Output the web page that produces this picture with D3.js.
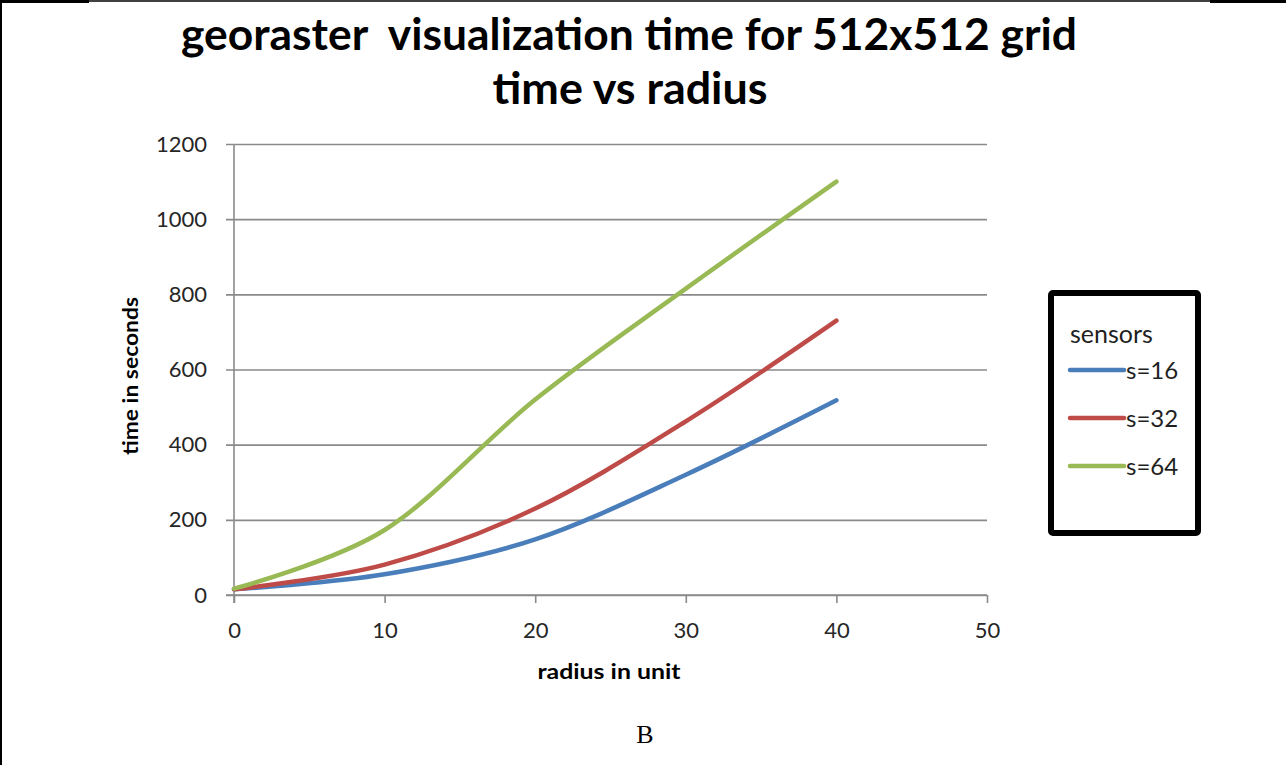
<!DOCTYPE html>
<html>
<head>
<meta charset="utf-8">
<script src="https://cdn.jsdelivr.net/npm/d3@7"></script>
<style>
    body { margin: 0; background: #ffffff; }
    svg { display: block; }
</style>
</head>
<body>
<div id="chart"></div>
<script>
// data
const radius = [0, 10, 20, 30, 40];
const seriesNames = ["s=16", "s=32", "s=64"];
const s16 = [15, 55, 148, 320, 518];
const s32 = [15, 81, 230, 462, 730];
const s64 = [17, 173, 520, 815, 1100];
const seriesColors = ["#4a7ebb", "#be4b48", "#98b954"];
const xTicks = [0, 10, 20, 30, 40, 50];
const yTicks = [0, 200, 400, 600, 800, 1000, 1200];

const width = 1286;
const height = 765;
const plot = {left: 234, right: 987, top: 144, bottom: 595};
const labelFont = "Lato, 'Open Sans', sans-serif";

let svg = d3.select("#chart")
    .append("svg")
    .attr("width", width)
    .attr("height", height);

// page frame (left edge and top rule)
svg.append("line")
    .attr("x1", 1).attr("y1", 0).attr("x2", 1).attr("y2", height)
    .attr("stroke", "#000").attr("stroke-width", 2);
svg.append("line")
    .attr("x1", 0).attr("y1", 1).attr("x2", width).attr("y2", 1)
    .attr("stroke", "#000").attr("stroke-width", 1.5);
svg.append("line")
    .attr("x1", 0).attr("y1", 1.5).attr("x2", 89).attr("y2", 1.5)
    .attr("stroke", "#000").attr("stroke-width", 3);
svg.append("line")
    .attr("x1", 1210).attr("y1", 1.5).attr("x2", width).attr("y2", 1.5)
    .attr("stroke", "#000").attr("stroke-width", 3);

let xScale = d3.scaleLinear()
    .domain([0, 50])
    .range([plot.left, plot.right]);

let yScale = d3.scaleLinear()
    .domain([0, 1200])
    .range([plot.bottom, plot.top]);

// horizontal grid, with the small outside tick on the left
svg.append("g")
    .attr("class", "grid")
    .attr("transform", "translate(" + plot.right + ", 0)")
    .call(d3.axisLeft(yScale)
        .tickValues(yTicks)
        .tickSize(plot.right - plot.left + 8)
        .tickFormat(""))
    .call(g => g.select(".domain").remove())
    .selectAll("line")
    .attr("stroke", "#8a8a8a")
    .attr("stroke-width", 1.6);

// y axis
let yAxis = svg.append("g")
    .attr("class", "yAxis")
    .attr("transform", "translate(" + plot.left + ", 0)")
    .call(d3.axisLeft(yScale)
        .tickValues(yTicks)
        .tickFormat(d3.format("d"))
        .tickSize(0)
        .tickPadding(27));
yAxis.select(".domain")
    .attr("stroke", "#8a8a8a")
    .attr("stroke-width", 1.6)
    .attr("d", "M0," + plot.top + "V" + (plot.bottom + 8));
yAxis.selectAll("text")
    .attr("fill", "#262626")
    .style("font-family", labelFont)
    .style("font-size", "22px");

// x axis
let xAxis = svg.append("g")
    .attr("class", "xAxis")
    .attr("transform", "translate(0, " + plot.bottom + ")")
    .call(d3.axisBottom(xScale)
        .tickValues(xTicks)
        .tickSize(8)
        .tickPadding(19));
xAxis.select(".domain")
    .attr("stroke", "#8a8a8a")
    .attr("stroke-width", 1.6)
    .attr("d", "M" + (plot.left - 8) + ",0H" + plot.right);
xAxis.selectAll("line")
    .attr("stroke", "#8a8a8a")
    .attr("stroke-width", 1.6);
xAxis.selectAll("text")
    .attr("fill", "#262626")
    .style("font-family", labelFont)
    .style("font-size", "22px");

// series lines (Excel style smoothing)
let line = d3.line()
    .x(function (d, i) { return xScale(radius[i]); })
    .y(function (d) { return yScale(d); })
    .curve(d3.curveCatmullRom.alpha(0));

svg.append("g")
    .attr("class", "series")
    .selectAll("path")
    .data([s16, s32, s64])
    .enter()
    .append("path")
    .attr("d", line)
    .attr("fill", "none")
    .attr("stroke", function (d, i) { return seriesColors[i]; })
    .attr("stroke-width", 4.5)
    .attr("stroke-linecap", "round")
    .attr("stroke-linejoin", "round");

// titles
svg.append("text")
    .attr("x", 629).attr("y", 50)
    .attr("text-anchor", "middle")
    .attr("textLength", 896)
    .attr("lengthAdjust", "spacingAndGlyphs")
    .style("white-space", "pre")
    .style("font-family", labelFont)
    .style("font-weight", "bold")
    .style("font-size", "44px")
    .text("georaster  visualization time for 512x512 grid");

svg.append("text")
    .attr("x", 630).attr("y", 104)
    .attr("text-anchor", "middle")
    .attr("textLength", 275)
    .attr("lengthAdjust", "spacingAndGlyphs")
    .style("font-family", labelFont)
    .style("font-weight", "bold")
    .style("font-size", "44px")
    .text("time vs radius");

// axis titles
svg.append("text")
    .attr("x", 609).attr("y", 679)
    .attr("text-anchor", "middle")
    .attr("textLength", 143)
    .attr("lengthAdjust", "spacingAndGlyphs")
    .style("font-family", labelFont)
    .style("font-weight", "bold")
    .style("font-size", "21px")
    .text("radius in unit");

svg.append("text")
    .attr("transform", "translate(138, 376) rotate(-90)")
    .attr("text-anchor", "middle")
    .attr("textLength", 158)
    .attr("lengthAdjust", "spacingAndGlyphs")
    .style("font-family", labelFont)
    .style("font-weight", "bold")
    .style("font-size", "21px")
    .text("time in seconds");

// legend
let legend = svg.append("g")
    .attr("class", "legend")
    .attr("transform", "translate(1051, 293)");

legend.append("rect")
    .attr("width", 147)
    .attr("height", 240)
    .attr("rx", 2)
    .attr("fill", "#fff")
    .attr("stroke", "#000")
    .attr("stroke-width", 6);

legend.append("text")
    .attr("x", 19).attr("y", 50)
    .attr("fill", "#1f1f1f")
    .style("font-family", labelFont)
    .style("font-size", "25px")
    .text("sensors");

let items = legend.selectAll(".item")
    .data(seriesNames)
    .enter()
    .append("g")
    .attr("class", "item")
    .attr("transform", function (d, i) { return "translate(0, " + (77 + i * 48) + ")"; });

items.append("line")
    .attr("x1", 19).attr("x2", 73)
    .attr("stroke", function (d, i) { return seriesColors[i]; })
    .attr("stroke-width", 4.5)
    .attr("stroke-linecap", "round");

items.append("text")
    .attr("x", 75).attr("dy", "0.36em")
    .attr("fill", "#1f1f1f")
    .style("font-family", labelFont)
    .style("font-size", "24px")
    .text(function (d) { return d; });

// figure caption
svg.append("text")
    .attr("x", 645).attr("y", 743)
    .attr("text-anchor", "middle")
    .style("font-family", "'Liberation Serif', 'DejaVu Serif', serif")
    .style("font-size", "26px")
    .text("B");
</script>
</body>
</html>
